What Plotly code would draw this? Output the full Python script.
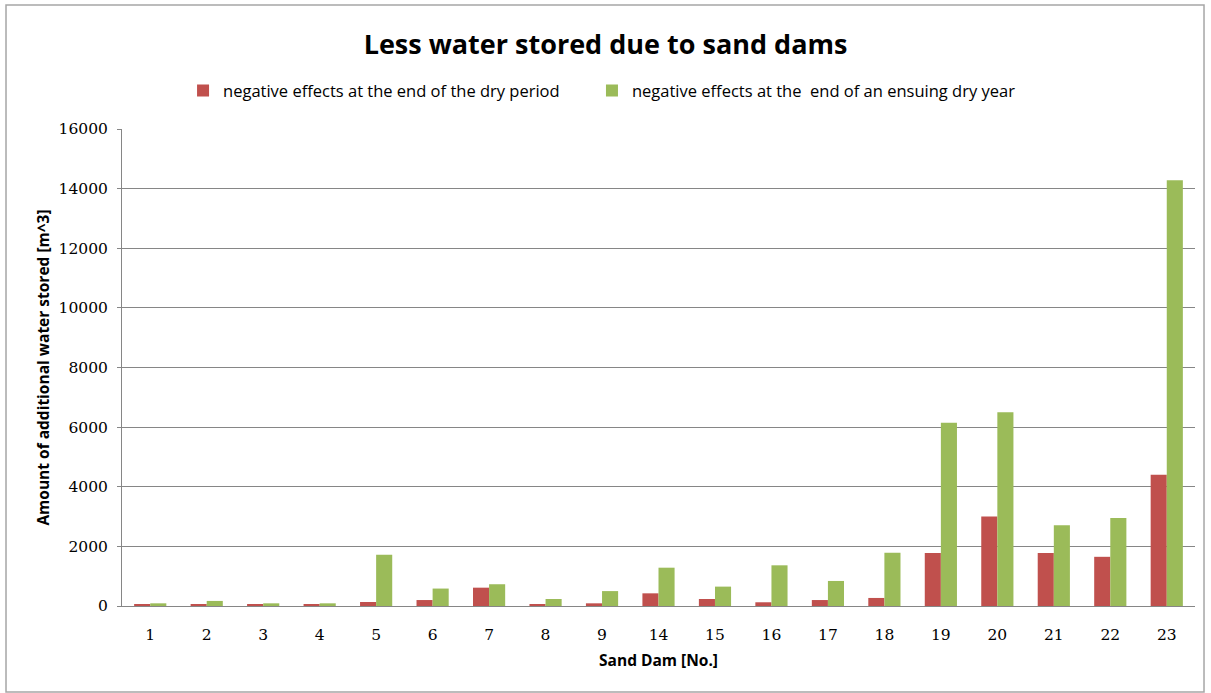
import plotly.graph_objects as go

dams = ["1", "2", "3", "4", "5", "6", "7", "8", "9", "14", "15", "16", "17", "18", "19", "20", "21", "22", "23"]
dry_period = [40, 40, 40, 40, 135, 200, 615, 40, 90, 425, 235, 125, 200, 270, 1780, 3000, 1780, 1650, 4400]
dry_year = [90, 170, 90, 90, 1720, 585, 730, 235, 500, 1285, 650, 1365, 840, 1785, 6150, 6500, 2710, 2950, 14280]
y_ticks = [0, 2000, 4000, 6000, 8000, 10000, 12000, 14000, 16000]

RED = "#C0504D"
GREEN = "#9BBB59"
SANS = "Open Sans, Liberation Sans, sans-serif"
SERIF = "DejaVu Serif, Liberation Serif, serif"

fig = go.Figure()
fig.add_trace(go.Bar(x=dams, y=dry_period, name="negative effects at the end of the dry period",
                     marker=dict(color=RED, line=dict(width=0)), legend="legend"))
fig.add_trace(go.Bar(x=dams, y=dry_year, name="negative effects at the  end of an ensuing dry year",
                     marker=dict(color=GREEN, line=dict(width=0)), legend="legend2"))

legend_common = dict(orientation="h", xanchor="left", y=1.08, yanchor="middle",
                     font=dict(family=SANS, size=16.5, color="black"),
                     itemwidth=30, bgcolor="rgba(0,0,0,0)")

fig.update_layout(
    width=1211, height=693,
    paper_bgcolor="white", plot_bgcolor="white",
    margin=dict(l=122, r=16, t=129, b=87),
    barmode="group", bargap=0.43, bargroupgap=0,
    title=dict(text="<b>Less water stored due to sand dams</b>", x=0.5, xanchor="center",
               y=0.935, yanchor="middle", font=dict(family=SANS, size=27, color="black")),
    legend=dict(x=0.0569, **legend_common),
    legend2=dict(x=0.438, **legend_common),
    showlegend=True,
    shapes=[dict(type="rect", xref="paper", yref="paper", x0=-0.1081, x1=1.0084, y0=-0.1803, y1=1.26,
                 line=dict(color="#A6A6A6", width=1.5), fillcolor="rgba(0,0,0,0)", layer="below")],
)
fig.update_xaxes(
    type="category",
    title=dict(text="<b>Sand Dam [No.]</b>", font=dict(family=SANS, size=15.5, color="black"), standoff=12),
    tickfont=dict(family=SERIF, size=15.5, color="black"),
    ticklabelstandoff=14,
    showline=True, linecolor="#868686", linewidth=1,
    ticks="", showgrid=False,
)
fig.update_yaxes(
    range=[0, 16000], tickvals=y_ticks, ticktext=[str(v) for v in y_ticks],
    title=dict(text="<b>Amount of additional water stored [m^3]</b>", font=dict(family=SANS, size=15.5, color="black"), standoff=5),
    tickfont=dict(family=SERIF, size=15.5, color="black"),
    ticklabelstandoff=6,
    showline=True, linecolor="#868686", linewidth=1,
    showgrid=True, gridcolor="#868686", gridwidth=1,
    ticks="outside", ticklen=4, tickcolor="#868686",
    zeroline=False,
)

fig.write_html("out.html", config={"displayModeBar": False},
               post_script="document.body.style.margin='0px';")
